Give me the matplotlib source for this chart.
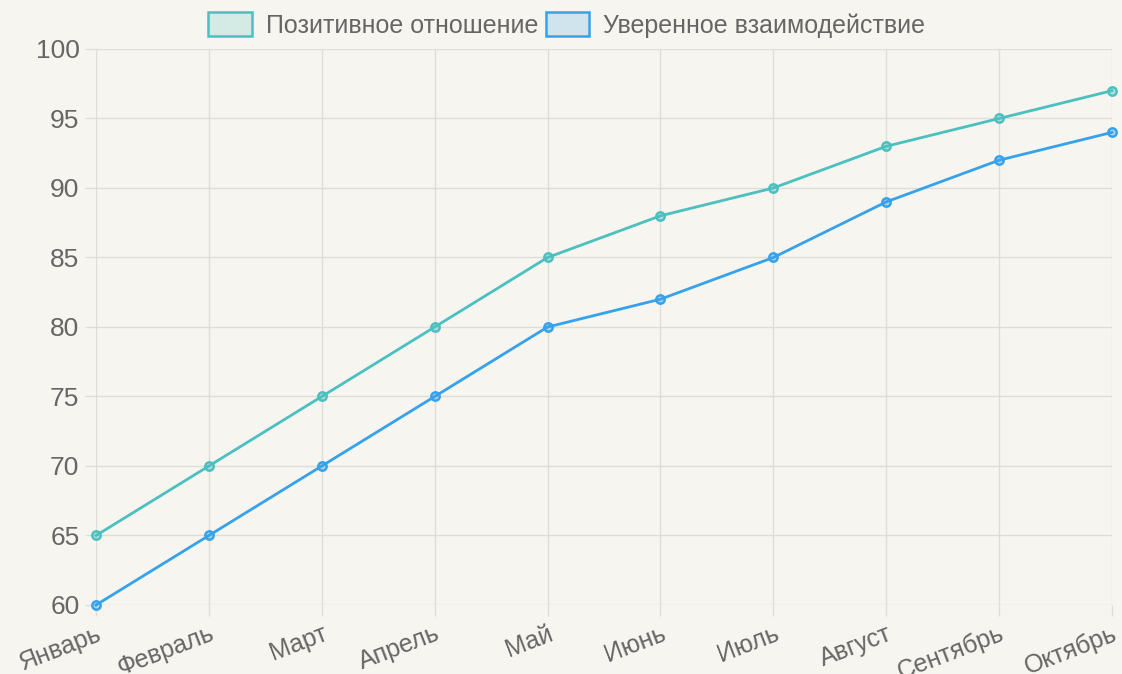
import matplotlib.pyplot as plt
from matplotlib.patches import Patch

# data
months = ['Январь', 'Февраль', 'Март', 'Апрель', 'Май', 'Июнь',
          'Июль', 'Август', 'Сентябрь', 'Октябрь']
positive = [65, 70, 75, 80, 85, 88, 90, 93, 95, 97]
confident = [60, 65, 70, 75, 80, 82, 85, 89, 92, 94]
series_names = ['Позитивное отношение', 'Уверенное взаимодействие']

bg = '#f7f5ef'
teal = '#4bc0c0'
blue = '#36a2eb'
text_col = '#666666'
grid_col = '#e0ddd8'

plt.rcParams['font.family'] = ['Liberation Sans', 'DejaVu Sans']

fig = plt.figure(figsize=(11.22, 6.74), dpi=100, facecolor=bg)
ax = fig.add_axes([0.0856, 0.1024, 0.9055, 0.8249], facecolor=bg)

x = range(len(months))
ax.plot(x, positive, color=teal, lw=2, marker='o', ms=6, mew=1.8,
        mfc=teal + '55', mec=teal, zorder=3, clip_on=False)
ax.plot(x, confident, color=blue, lw=2, marker='o', ms=6, mew=1.8,
        mfc=blue + '55', mec=blue, zorder=3, clip_on=False)

ax.set_xlim(0, len(months) - 1)
ax.set_ylim(60, 100)
ax.set_yticks(range(60, 101, 5))
ax.set_xticks(list(x))
ax.set_xticklabels(months, rotation=21, ha='right', va='top',
                   rotation_mode='anchor')

ax.grid(True, color=grid_col, lw=1)
ax.set_axisbelow(True)
for s in ax.spines.values():
    s.set_visible(False)
ax.tick_params(axis='both', colors=grid_col, length=8, width=1,
               labelcolor=text_col)
ax.tick_params(axis='y', labelsize=19, pad=4)
ax.tick_params(axis='x', labelsize=18, pad=4)

handles = [Patch(facecolor=teal + '33', edgecolor=teal, lw=1.8),
           Patch(facecolor=blue + '33', edgecolor=blue, lw=1.8)]
fig.legend(handles, series_names, loc='upper center', ncol=2,
           bbox_to_anchor=(0.505, 1.015), frameon=False, fontsize=18,
           labelcolor=text_col, handlelength=1.75, handleheight=1.05,
           handletextpad=0.55, columnspacing=0.3)

fig.savefig('out.png', dpi=100, facecolor=bg)
